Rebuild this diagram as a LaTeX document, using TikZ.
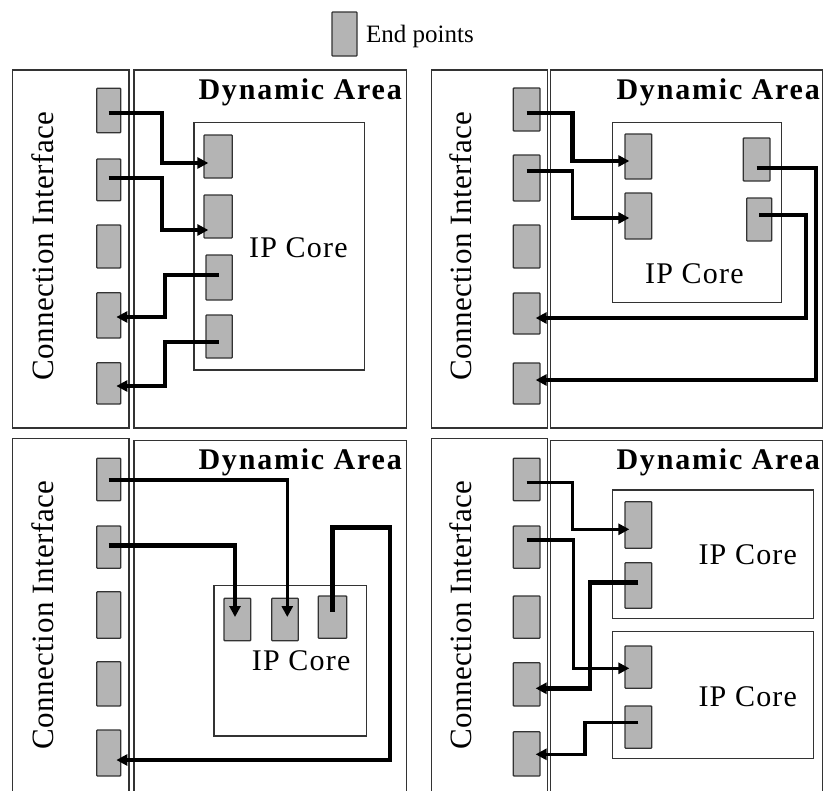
\documentclass[tikz,border=0pt]{standalone}
\usepackage{fontspec}
\setmainfont{Liberation Serif}
\newfontfamily\dafont[LetterSpace=6]{Liberation Serif}
\newfontfamily\cifont[LetterSpace=1.5]{Liberation Serif}
\newfontfamily\ipfont[LetterSpace=4]{Liberation Serif}
\usetikzlibrary{arrows.meta}
\definecolor{epgray}{HTML}{B4B4B4}
\definecolor{framec}{HTML}{333333}
\newcommand\EndPt[5]{\node[endpt, minimum width={#4-#2}, minimum height={#5-#3}] (#1) at ({(#2+#4)/2},{(#3+#5)/2}) {};}
\tikzset{
  endpt/.style={draw=black!80, fill=epgray, line width=1.3pt, inner sep=0pt, rounded corners=0.8pt},
  panel/.style={draw=framec, line width=1.3pt},
  wire/.style={line width=4.8pt, -{Triangle[length=11pt,width=11pt]}, shorten >=-5pt},
  thinwire/.style={wire, line width=3.5pt},
  datext/.style={font=\dafont\bfseries\fontsize{30}{36}\selectfont, anchor=base east, inner sep=0pt},
  citext/.style={font=\cifont\fontsize{31}{38}\selectfont, rotate=90, anchor=base, inner sep=0pt},
  iptext/.style={font=\ipfont\fontsize{30}{36}\selectfont, anchor=base west, inner sep=0pt},
}
\begin{document}
\begin{tikzpicture}[x=1pt,y=-1pt]
\useasboundingbox (0,0) rectangle (824,790);
\clip (0,0) rectangle (824,790);
\fill[white] (0,0) rectangle (824,790);

% legend
\EndPt{legend}{332}{12}{357}{56}
\node[font=\fontsize{25}{30}\selectfont, anchor=base west, inner sep=0pt] (legendtext) at (366,42) {End points};

% ---------- top-left ----------
\draw[panel] (12.3,70) rectangle (129,428);
\draw[panel] (134,70) rectangle (406.7,428);
\draw[panel] (194,122.7) rectangle (364.3,370);
\node[datext] (da1) at (402,99) {Dynamic Area};
\node[citext] (ci1) at (53,246) {Connection Interface};
\node[iptext] (ip1) at (249,257) {IP Core};
\EndPt{a1}{96.7}{88.3}{120.7}{132.7}
\EndPt{a2}{96.7}{159}{120.7}{200.7}
\EndPt{a3}{96.7}{225}{120.7}{268}
\EndPt{a4}{96.7}{292.7}{120.7}{338}
\EndPt{a5}{96.7}{362.7}{120.7}{404}
\EndPt{b1}{204}{135}{232.3}{178}
\EndPt{b2}{204}{195}{232.3}{238}
\EndPt{b3}{206}{255}{232.3}{300}
\EndPt{b4}{206}{315}{232.3}{358}
\draw[wire] (a1.center |- 0,113) -| (162,163) -- (b1.west |- 0,163);
\draw[thinwire] (a2.center |- 0,178) -| (162,230) -- (b2.west |- 0,230);
\draw[thinwire] (b3.center |- 0,275) -| (165,317) -- (a4.east |- 0,317);
\draw[wire] (b4.center |- 0,342) -| (165,386) -- (a5.east |- 0,386);

% ---------- top-right ----------
\draw[panel] (431.7,70) rectangle (547.3,428);
\draw[panel] (550.7,70) rectangle (822.7,428);
\draw[panel] (612.7,122.7) rectangle (781.7,302.7);
\node[datext] (da2) at (820,99) {Dynamic Area};
\node[citext] (ci2) at (471.7,246) {Connection Interface};
\node[iptext] (ip2) at (645,283) {IP Core};
\EndPt{c1}{513.3}{88}{540}{131}
\EndPt{c2}{513.3}{155}{540}{201}
\EndPt{c3}{513.3}{225}{540}{268}
\EndPt{c4}{513.3}{293}{540}{334}
\EndPt{c5}{513.3}{363}{540}{404}
\EndPt{d1}{625}{134}{651.7}{179}
\EndPt{d2}{625}{193}{651.7}{239}
\EndPt{d3}{743.3}{138}{770}{181}
\EndPt{d4}{746.7}{198}{771.7}{241}
\draw[wire] (c1.center |- 0,113) -| (572.7,161) -- (d1.west |- 0,161);
\draw[thinwire] (c2.center |- 0,171) -| (572.7,218) -- (d2.west |- 0,218);
\draw[wire] (d3.center |- 0,168) -| (816,380) -- (c5.east |- 0,380);
\draw[wire] (d4.center |- 0,215) -| (806,318) -- (c4.east |- 0,318);

% ---------- bottom-left ----------
\draw[panel] (12.3,438.3) rectangle (129,800);
\draw[panel] (134,440.7) rectangle (406.7,800);
\draw[panel] (214,585.7) rectangle (366.7,736);
\node[datext] (da3) at (402,469) {Dynamic Area};
\node[citext] (ci3) at (53,615) {Connection Interface};
\node[iptext] (ip3) at (251.7,670) {IP Core};
\EndPt{e1}{96.7}{458.3}{120.7}{500.7}
\EndPt{e2}{96.7}{526}{120.7}{568.3}
\EndPt{e3}{96.7}{591.7}{120.7}{638.3}
\EndPt{e4}{96.7}{661.7}{120.7}{706}
\EndPt{e5}{96.7}{730}{120.7}{776}
\EndPt{f1}{224}{598.3}{250.7}{640.7}
\EndPt{f2}{271.7}{598.3}{298.3}{640.7}
\EndPt{f3}{318.3}{596}{346.7}{638.3}
\draw[thinwire, shorten >=0pt] (e1.center |- 0,480) -| (287.3,617);
\draw[wire, shorten >=0pt] (e2.center |- 0,545.7) -| (235,617);
\draw[wire] (f3.center |- 0,611.7) |- (390,527.7) |- (e5.east |- 0,760);

% ---------- bottom-right ----------
\draw[panel] (431.7,438.3) rectangle (547.3,800);
\draw[panel] (550.7,440.7) rectangle (822.7,800);
\draw[panel] (612.7,490) rectangle (813.3,618.3);
\draw[panel] (612.7,631.7) rectangle (813.3,758.3);
\node[datext] (da4) at (820,469) {Dynamic Area};
\node[citext] (ci4) at (471.7,615) {Connection Interface};
\node[iptext] (ip4) at (698.3,564) {IP Core};
\node[iptext] (ip5) at (698.3,706) {IP Core};
\EndPt{g1}{513.3}{458.3}{540}{500.7}
\EndPt{g2}{513.3}{526}{540}{568.3}
\EndPt{g3}{513.3}{596}{540}{638.3}
\EndPt{g4}{513.3}{662.7}{540}{706}
\EndPt{g5}{513.3}{731.7}{540}{776}
\EndPt{h1}{625}{501.7}{651.7}{548.3}
\EndPt{h2}{625}{562.7}{651.7}{608.3}
\EndPt{h3}{625}{646}{651.7}{688.3}
\EndPt{h4}{625}{706}{651.7}{748.3}
\draw[thinwire] (g1.center |- 0,482.7) -| (572.7,529.3) -- (h1.west |- 0,529.3);
\draw[thinwire] (g2.center |- 0,540) -| (573.3,668.3) -- (h3.west |- 0,668.3);
\draw[wire] (h2.center |- 0,582.7) -| (590,688.3) -- (g4.east |- 0,688.3);
\draw[thinwire] (h4.center |- 0,722.7) -| (585,754.3) -- (g5.east |- 0,754.3);
\end{tikzpicture}
\end{document}
